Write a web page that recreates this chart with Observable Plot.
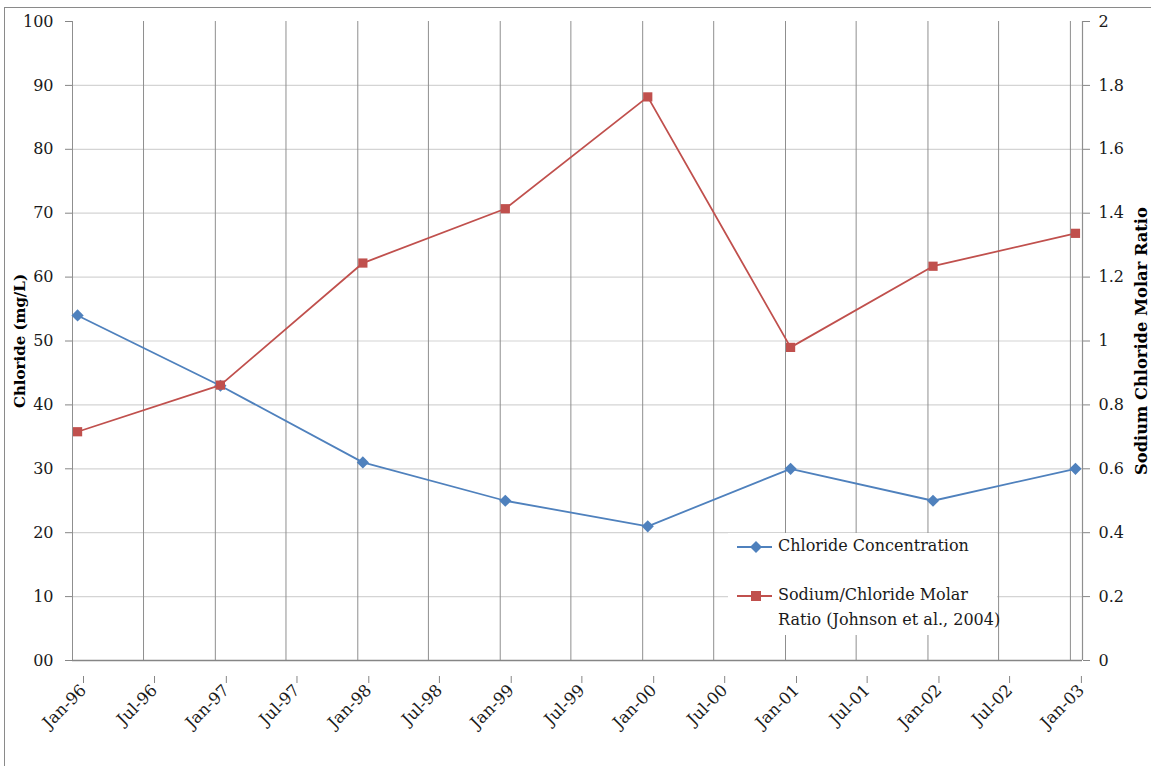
<!DOCTYPE html>
<html>
<head>
<meta charset="utf-8">
<script src="https://cdn.jsdelivr.net/npm/d3@7"></script>
<script src="https://cdn.jsdelivr.net/npm/@observablehq/plot@0.6"></script>
<style>
  body { margin: 0; background: #fff; }
  #wrap { position: relative; width: 1151px; height: 766px; overflow: hidden; font-family: "DejaVu Serif", serif; }
  #border { position: absolute; left: 4px; top: 7px; width: 1300px; height: 900px; border: 1.5px solid #8a8a8a; box-sizing: border-box; pointer-events: none; }
  #chart { position: absolute; left: 0; top: 0; }
  #legend { position: absolute; left: 728px; top: 533px; width: 269px; height: 102px; background: #fff; font-size: 16px; color: #1a1a1a; }
  .item { position: absolute; left: 0; display: flex; align-items: flex-start; white-space: nowrap; }
  .item svg { flex: none; }
  .item span { line-height: 25px; margin-left: 6px; }
  g[aria-label="y-axis label"] text { font-weight: bold; fill: #000; }
  g[aria-label="x-axis tick label"] text { font-size: 16.5px; }
</style>
</head>
<body>
<div id="wrap">
  <div id="chart"></div>
  <div id="legend"></div>
  <div id="border"></div>
</div>
<script>
// ---- data ----
const sampleDates = ["1996-01-14","1997-01-14","1998-01-14","1999-01-14","2000-01-14","2001-01-14","2002-01-14","2003-01-14"];
const chloride = [54, 43, 31, 25, 21, 30, 25, 30];
const naClRatio = [0.716, 0.862, 1.244, 1.414, 1.764, 0.980, 1.234, 1.337];
const leftTicks = [0, 10, 20, 30, 40, 50, 60, 70, 80, 90, 100];
const rightTicks = [0, 0.2, 0.4, 0.6, 0.8, 1, 1.2, 1.4, 1.6, 1.8, 2];
const xDomain = ["1996-01-01", "2003-02-01"];
const seriesNames = ["Chloride Concentration", "Sodium/Chloride Molar Ratio (Johnson et al., 2004)"];
const colors = ["#4F81BD", "#C0504D"];

// ---- build ----
const ratioFactor = 100 / 2; // right axis 0–2 shares left 0–100
const rows = sampleDates.map((d, i) => ({date: new Date(d), cl: chloride[i], ratio: naClRatio[i]}));
const xd = xDomain.map(d => new Date(d));
const xTicks = d3.utcMonth.every(6).range(xd[0], new Date("2003-01-02"));
const fmtX = d3.utcFormat("%b-%y");
const fmtR = d3.format(".1~f");

const plot = Plot.plot({
  width: 1151,
  height: 766,
  marginLeft: 72,
  marginRight: 69,
  marginTop: 21,
  marginBottom: 106,
  style: {fontFamily: "DejaVu Serif", fontSize: "16px", color: "#1a1a1a", background: "transparent"},
  x: {type: "utc", domain: xd},
  y: {domain: [0, 100]},
  marks: [
    Plot.gridY(leftTicks.filter(t => t > 0 && t < 100), {stroke: "#d4d4d4", strokeOpacity: 1, strokeWidth: 1.2}),
    Plot.gridX(xTicks, {stroke: "#8f8f8f", strokeOpacity: 1, strokeWidth: 1}),
    Plot.ruleX([xd[1]], {stroke: "#8f8f8f", strokeWidth: 1.2}),
    Plot.ruleY([0], {stroke: "#868686", strokeWidth: 1.5}),
    Plot.axisY(leftTicks, {anchor: "left", tickSize: 7, tickPadding: 12, stroke: "#868686", fill: "#1a1a1a",
      tickFormat: d => d === 0 ? "00" : String(d),
      label: "Chloride (mg/L)", labelAnchor: "center", labelArrow: false, labelOffset: 58}),
    Plot.axisY(rightTicks.map(t => t * ratioFactor), {anchor: "right", tickSize: 7, tickPadding: 9, stroke: "#868686", fill: "#1a1a1a",
      tickFormat: d => fmtR(d / ratioFactor),
      label: "Sodium Chloride Molar Ratio", labelAnchor: "center", labelArrow: false, labelOffset: 64}),
    Plot.axisX(xTicks, {anchor: "bottom", tickSize: 7, tickPadding: 4, stroke: "#868686", fill: "#1a1a1a",
      tickFormat: fmtX, tickRotate: -45, label: null, dx: 11, dy: 16}),
    Plot.line(rows, {x: "date", y: "cl", stroke: colors[0], strokeWidth: 1.8}),
    Plot.dot(rows, {x: "date", y: "cl", symbol: "diamond2", r: 5.5, fill: colors[0], stroke: "none"}),
    Plot.line(rows, {x: "date", y: d => d.ratio * ratioFactor, stroke: colors[1], strokeWidth: 1.8}),
    Plot.dot(rows, {x: "date", y: d => d.ratio * ratioFactor, symbol: "square", r: 5.2, fill: colors[1], stroke: "none"})
  ]
});
document.getElementById("chart").appendChild(plot);

// size tweaks for axis titles
plot.querySelectorAll('g[aria-label="y-axis label"] text').forEach((t, i) => {
  t.style.fontSize = (t.textContent.startsWith("Chloride") ? 15 : 16.3) + "px";
});

// ---- legend ----
const legend = document.getElementById("legend");
const markerSvg = (i) => {
  const c = colors[i];
  const shape = i === 0
    ? `<path d="M28 8 L34 14 L28 20 L22 14 Z" fill="${c}"/>`
    : `<rect x="23" y="9" width="10" height="10" fill="${c}"/>`;
  return `<svg width="44" height="28" viewBox="0 0 44 28"><line x1="9" x2="44" y1="14" y2="14" stroke="${c}" stroke-width="1.8"/>${shape}</svg>`;
};
const legendTops = [0, 49];
const legendText = ["Chloride Concentration", "Sodium/Chloride Molar<br>Ratio (Johnson et al., 2004)"];
seriesNames.forEach((name, i) => {
  const div = document.createElement("div");
  div.className = "item";
  div.style.top = legendTops[i] + "px";
  div.innerHTML = markerSvg(i) + `<span>${legendText[i]}</span>`;
  legend.appendChild(div);
});
</script>
</body>
</html>
